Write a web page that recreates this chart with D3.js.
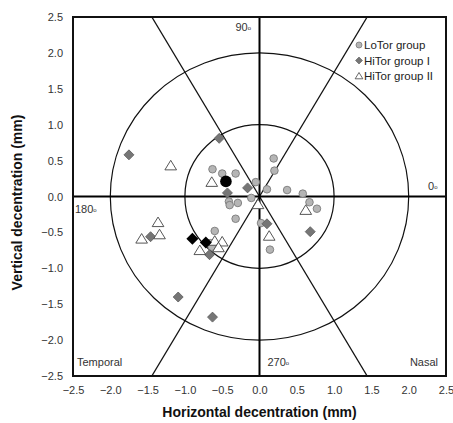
<!DOCTYPE html>
<html>
<head>
<meta charset="utf-8">
<script src="https://cdn.jsdelivr.net/npm/d3@7"></script>
<style>
  html, body { margin: 0; padding: 0; background: #fff; }
  svg { display: block; font-family: "Liberation Sans", Arial, sans-serif; }
</style>
</head>
<body>
<svg id="chart" width="453" height="423"></svg>
<script>
// Tick values (mm)
const xTicks = [-2.5, -2.0, -1.5, -1.0, -0.5, 0.0, 0.5, 1.0, 1.5, 2.0, 2.5];
const yTicks = [-2.5, -2.0, -1.5, -1.0, -0.5, 0.0, 0.5, 1.0, 1.5, 2.0, 2.5];

// LoTor group decentration (mm)
const loTorX = [-0.63, -0.50, -0.32, -0.05, 0.19, 0.20, 0.10, 0.37, 0.58, 0.67, 0.77,
                -0.11, -0.41, -0.40, -0.29, -0.32, -0.60, -0.66, -0.64, 0.02, 0.14];
const loTorY = [0.38, 0.32, 0.32, 0.20, 0.53, 0.36, 0.10, 0.09, 0.04, -0.08, -0.17,
                -0.02, -0.07, -0.12, -0.09, -0.31, -0.48, -0.65, -0.70, -0.37, -0.74];

// HiTor group I decentration (mm)
const hiTor1X = [-0.54, -1.75, -0.43, -0.16, -1.46, -0.67, -1.09, -0.63, 0.10, 0.68];
const hiTor1Y = [0.81, 0.58, 0.05, 0.12, -0.56, -0.81, -1.40, -1.68, -0.38, -0.49];

// HiTor group II decentration (mm)
const hiTor2X = [-1.19, -0.64, -0.02, 0.62, 0.13, -1.36, -1.58, -1.34, -0.60, -0.50, -0.55, -0.80];
const hiTor2Y = [0.43, 0.20, -0.11, -0.19, -0.55, -0.36, -0.59, -0.53, -0.62, -0.63, -0.71, -0.75];

// Group means
const loMeanX = [-0.45];
const loMeanY = [0.21];
const hiMeanX = [-0.90, -0.72];
const hiMeanY = [-0.59, -0.64];

// Reference rings (mm) and sector boundaries (degrees)
const ringRadii = [1, 2];
const sectorAngles = [60, 120, 240, 300];

const legendLabels = ["LoTor group", "HiTor group I", "HiTor group II"];

const svg = d3.select("#chart");
const margin = { left: 73, top: 17, right: 7, bottom: 47 };
const W = 453 - margin.left - margin.right;
const H = 423 - margin.top - margin.bottom;

const x = d3.scaleLinear().domain([-2.5, 2.5]).range([0, W]);
const y = d3.scaleLinear().domain([-2.5, 2.5]).range([H, 0]);

const g = svg.append("g").attr("transform", `translate(${margin.left},${margin.top})`);

g.append("defs").append("clipPath").attr("id", "plotClip")
  .append("rect").attr("width", W).attr("height", H);

const plot = g.append("g").attr("clip-path", "url(#plotClip)");

// Rings
plot.selectAll("ellipse.ring").data(ringRadii).join("ellipse")
  .attr("class", "ring")
  .attr("cx", x(0)).attr("cy", y(0))
  .attr("rx", r => x(r) - x(0))
  .attr("ry", r => y(0) - y(r))
  .attr("fill", "none").attr("stroke", "#111").attr("stroke-width", 1.2);

// Sector lines from the origin to the frame
function rayEnd(a) {
  const t = a * Math.PI / 180, c = Math.cos(t), s = Math.sin(t);
  const k = Math.min(2.5 / Math.abs(c), 2.5 / Math.abs(s));
  return [k * c, k * s];
}
plot.selectAll("line.sector").data(sectorAngles).join("line")
  .attr("class", "sector")
  .attr("x1", x(0)).attr("y1", y(0))
  .attr("x2", a => x(rayEnd(a)[0]))
  .attr("y2", a => y(rayEnd(a)[1]))
  .attr("stroke", "#111").attr("stroke-width", 1.3);

// Cross-hair axes through the origin
plot.append("line").attr("x1", 0).attr("x2", W).attr("y1", y(0)).attr("y2", y(0))
  .attr("stroke", "#000").attr("stroke-width", 2);
plot.append("line").attr("x1", x(0)).attr("x2", x(0)).attr("y1", 0).attr("y2", H)
  .attr("stroke", "#000").attr("stroke-width", 2);

// Frame
g.append("rect").attr("width", W).attr("height", H)
  .attr("fill", "none").attr("stroke", "#111").attr("stroke-width", 2);

// Axes (labels only)
const xAxis = g.append("g").attr("transform", `translate(0,${H})`)
  .call(d3.axisBottom(x).tickValues(xTicks).tickFormat(d3.format(".1f")).tickSize(0).tickPadding(10));
const yAxis = g.append("g")
  .call(d3.axisLeft(y).tickValues(yTicks).tickFormat(d3.format(".1f")).tickSize(0).tickPadding(10));
[xAxis, yAxis].forEach(a => {
  a.select(".domain").remove();
  a.selectAll("text").attr("font-size", 11).attr("fill", "#333")
    .attr("font-family", "Liberation Sans, Arial, sans-serif");
});

// Markers
const diamond = s => `M0,${-s}L${s},0L0,${s}L${-s},0Z`;
const triangle = s => `M0,${-s}L${s * 1.1},${s * 0.8}L${-s * 1.1},${s * 0.8}Z`;

const pts = (xs, ys) => xs.map((v, i) => [v, ys[i]]);

plot.selectAll("circle.lo").data(pts(loTorX, loTorY)).join("circle")
  .attr("class", "lo")
  .attr("cx", d => x(d[0])).attr("cy", d => y(d[1])).attr("r", 3.8)
  .attr("fill", "#b5b5b5").attr("stroke", "#7a7a7a").attr("stroke-width", 0.9);

plot.selectAll("path.hi1").data(pts(hiTor1X, hiTor1Y)).join("path")
  .attr("class", "hi1")
  .attr("transform", d => `translate(${x(d[0])},${y(d[1])})`)
  .attr("d", diamond(5))
  .attr("fill", "#767676").attr("stroke", "#5a5a5a").attr("stroke-width", 0.8);

plot.selectAll("path.hi2").data(pts(hiTor2X, hiTor2Y)).join("path")
  .attr("class", "hi2")
  .attr("transform", d => `translate(${x(d[0])},${y(d[1])})`)
  .attr("d", triangle(5.3))
  .attr("fill", "#fff").attr("stroke", "#444").attr("stroke-width", 0.9);

plot.selectAll("circle.loMean").data(pts(loMeanX, loMeanY)).join("circle")
  .attr("class", "loMean")
  .attr("cx", d => x(d[0])).attr("cy", d => y(d[1])).attr("r", 5.8)
  .attr("fill", "#000");

plot.selectAll("path.hiMean").data(pts(hiMeanX, hiMeanY)).join("path")
  .attr("class", "hiMean")
  .attr("transform", d => `translate(${x(d[0])},${y(d[1])})`)
  .attr("d", diamond(6))
  .attr("fill", "#000");

// Angle and side annotations
const ann = g.append("g").attr("font-size", 11).attr("fill", "#333");
function degLabel(txt, px, py, anchor) {
  const t = ann.append("text").attr("x", px).attr("y", py).attr("text-anchor", anchor);
  t.append("tspan").text(txt);
  t.append("tspan").attr("font-size", 6).attr("dy", -1).text("o");
}
degLabel("90", x(0) - 24, y(2.5) + 14, "start");
degLabel("0", W - 18, y(0) - 7, "start");
degLabel("180", 2, y(0) + 16, "start");
degLabel("270", x(0) + 8, H - 10, "start");
ann.append("text").attr("x", 4).attr("y", H - 10).text("Temporal");
ann.append("text").attr("x", W - 8).attr("y", H - 10).attr("text-anchor", "end").text("Nasal");

// Legend
const leg = g.append("g").attr("transform", `translate(${W - 87},${28})`);
const legRows = leg.selectAll("g").data(legendLabels).join("g")
  .attr("transform", (d, i) => `translate(0,${i * 15.5})`);
legRows.append("text").attr("x", 5).attr("y", 4).attr("font-size", 11.5).attr("fill", "#222")
  .text(d => d);
legRows.filter((d, i) => i === 0).append("circle").attr("r", 3)
  .attr("fill", "#b5b5b5").attr("stroke", "#7a7a7a").attr("stroke-width", 0.8);
legRows.filter((d, i) => i === 1).append("path").attr("d", diamond(3.5))
  .attr("fill", "#767676").attr("stroke", "#5a5a5a").attr("stroke-width", 0.6);
legRows.filter((d, i) => i === 2).append("path").attr("d", triangle(3.5))
  .attr("fill", "#fff").attr("stroke", "#444").attr("stroke-width", 0.8);

// Axis titles
svg.append("text")
  .attr("x", margin.left + x(0)).attr("y", 417)
  .attr("text-anchor", "middle").attr("font-size", 14).attr("font-weight", "bold").attr("fill", "#111")
  .text("Horizontal decentration (mm)");
svg.append("text")
  .attr("transform", `translate(22,${margin.top + y(0) + 6}) rotate(-90)`)
  .attr("text-anchor", "middle").attr("font-size", 14).attr("font-weight", "bold").attr("fill", "#111")
  .text("Vertical decentration (mm)");
</script>
</body>
</html>
